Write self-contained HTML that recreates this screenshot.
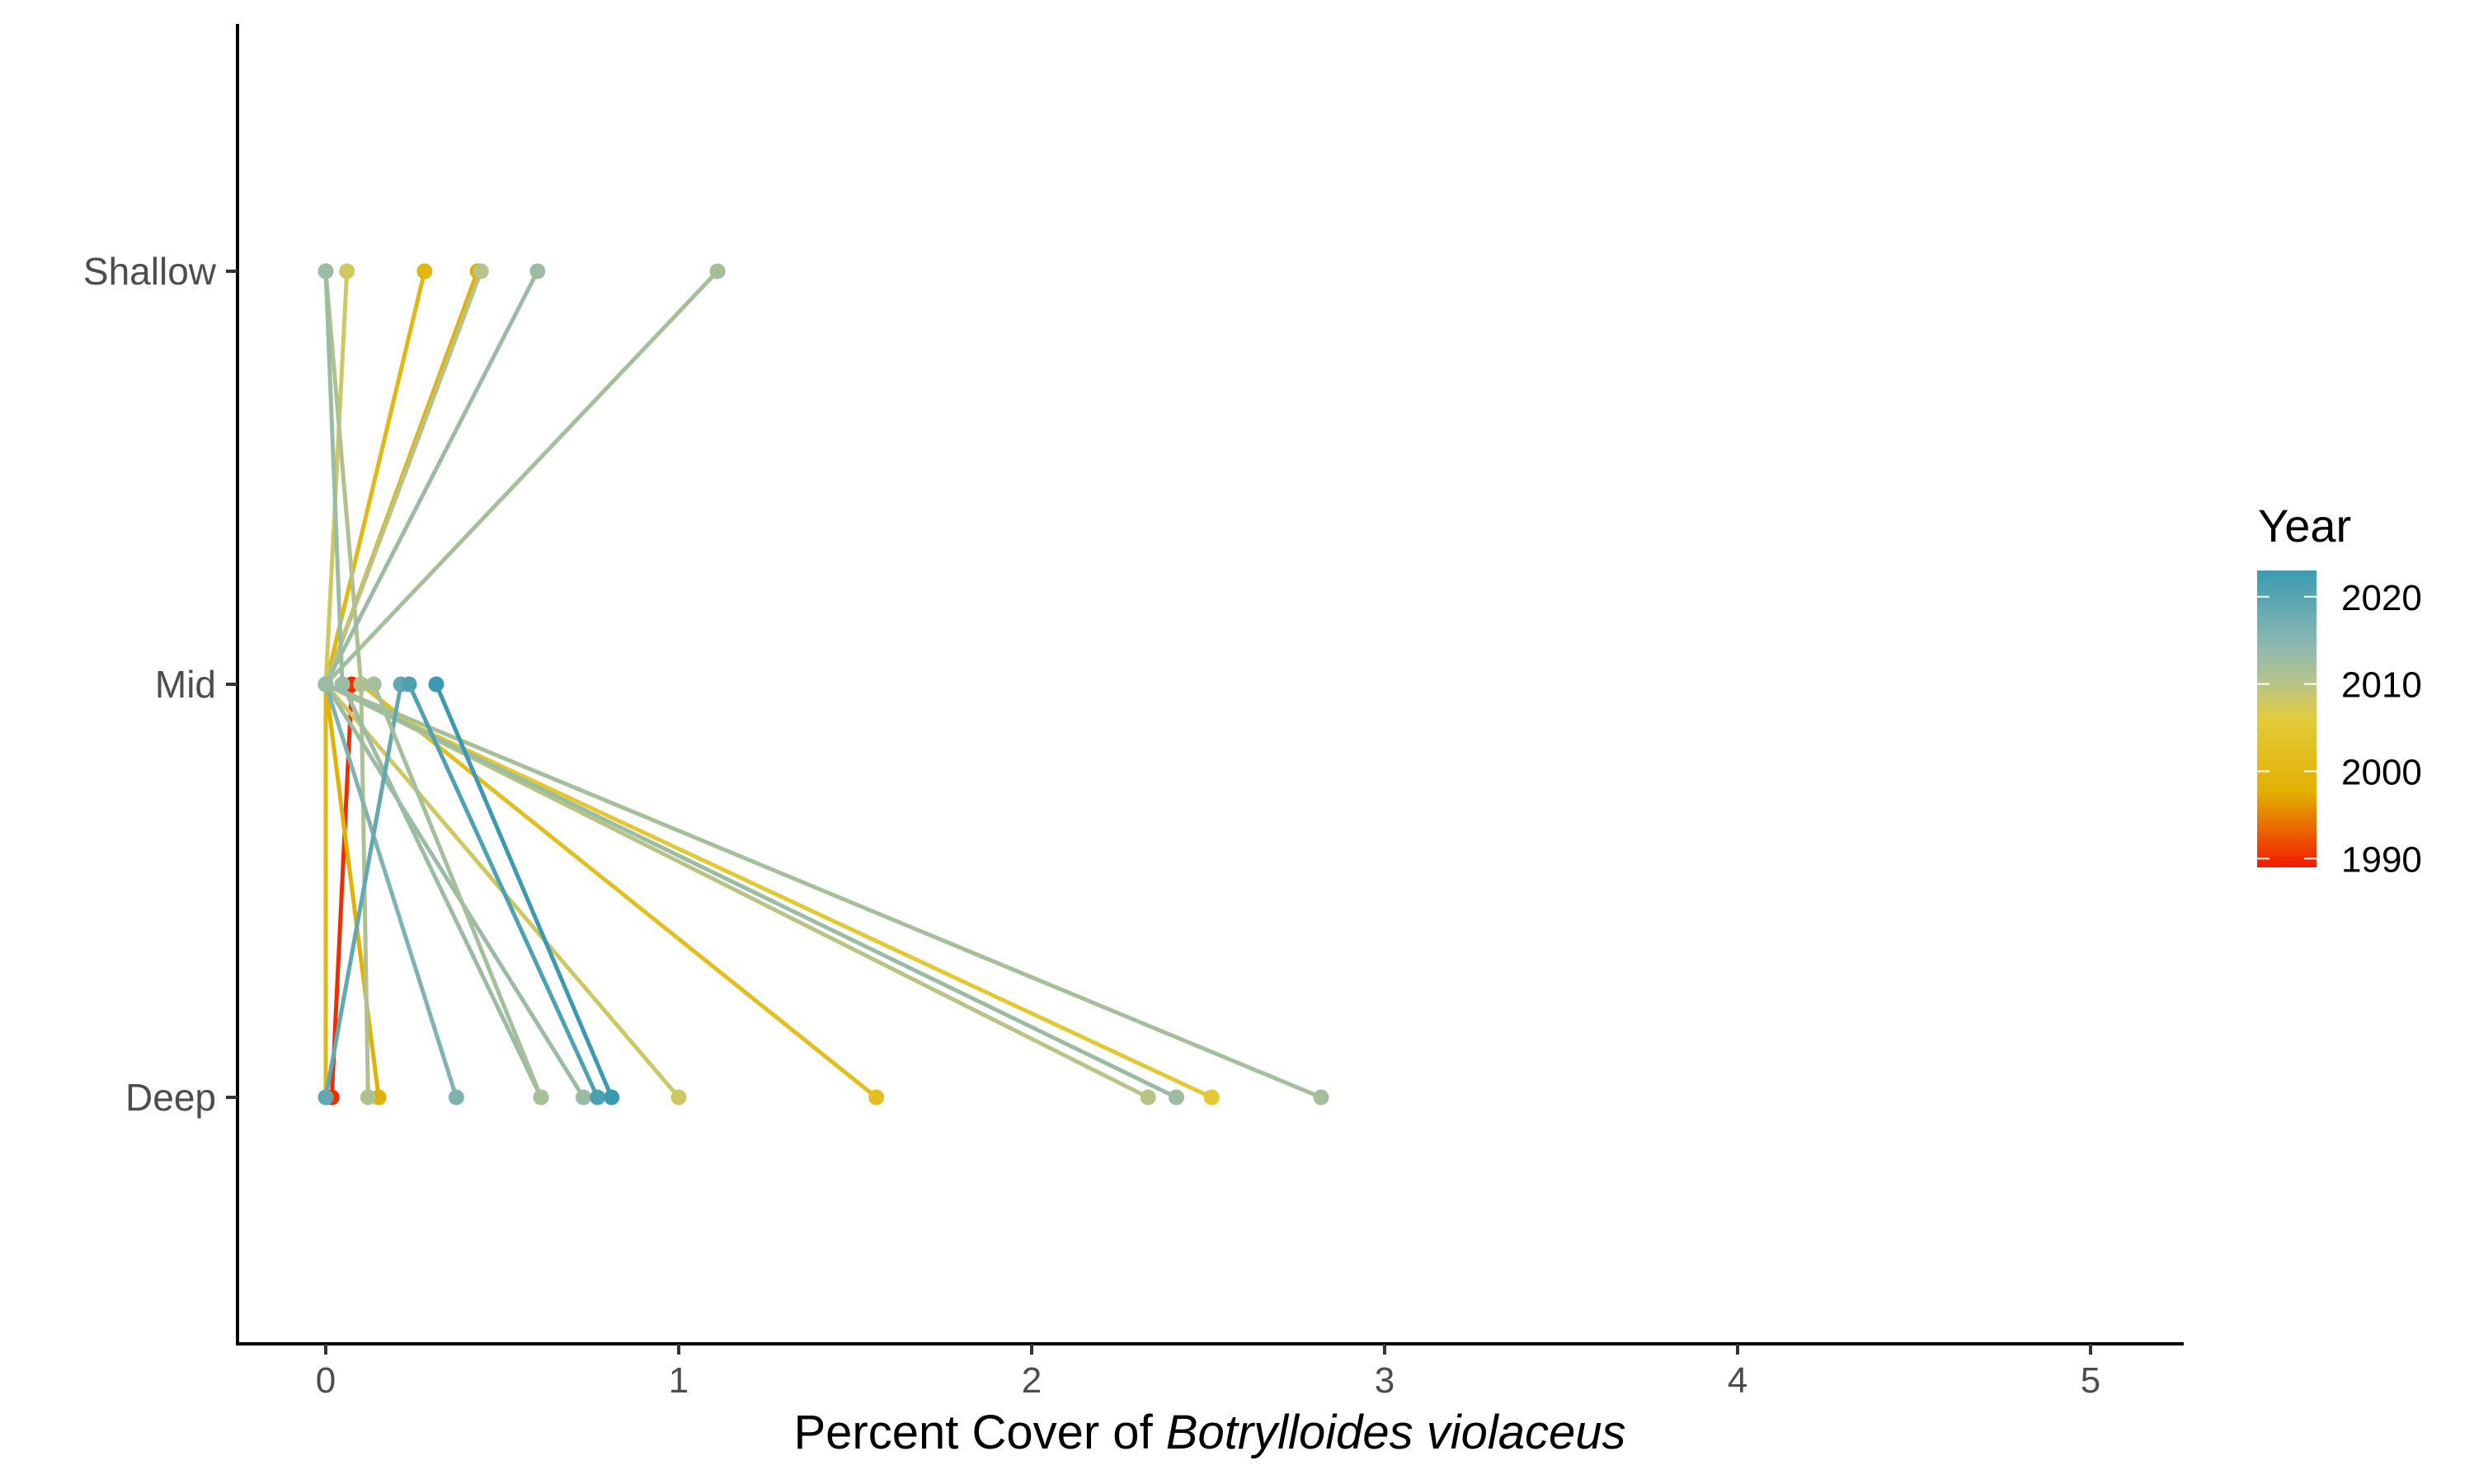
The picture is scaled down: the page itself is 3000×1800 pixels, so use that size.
<!DOCTYPE html>
<html><head><meta charset="utf-8"><style>
html,body{margin:0;padding:0;background:#fff}
svg{display:block}
text{font-family:"Liberation Sans",Arial,sans-serif}
</style></head><body>
<svg id="chart" width="3000" height="1800" viewBox="0 0 3000 1800" xmlns="http://www.w3.org/2000/svg">
<defs>
<linearGradient id="grad" x1="0" y1="1" x2="0" y2="0">
<stop offset="0" stop-color="#F21A00"/>
<stop offset="0.25" stop-color="#E1AF00"/>
<stop offset="0.5" stop-color="#E3CB3A"/>
<stop offset="0.62" stop-color="#B7C489"/>
<stop offset="0.75" stop-color="#8CB8B0"/>
<stop offset="1" stop-color="#3B9AB2"/>
</linearGradient>
</defs>
<g id="marks"></g>
<line x1="288" y1="29" x2="288" y2="1630" stroke="#000" stroke-width="4"/>
<line x1="286" y1="1630" x2="2648" y2="1630" stroke="#000" stroke-width="4"/>
<g id="xticks"></g>
<g id="yticks"></g>
<text x="1467" y="1757" font-size="58" text-anchor="middle" fill="#000">Percent Cover of <tspan font-style="italic">Botrylloides violaceus</tspan></text>
<g>
<text x="2738" y="657" font-size="56" fill="#000">Year</text>
<rect x="2737" y="692" width="72" height="360" fill="url(#grad)"/>
<g id="legticks"></g>
</g>
</svg>
<script>
const xTicks = [0,1,2,3,4,5];
const depths = ["Shallow","Mid","Deep"];
const years   = [1990, 1998, 2000, 2002, 2005, 2008, 2010, 2011, 2012, 2013, 2013, 2016, 2013, 2019, 2021, 2023, 2012];
const shallow = [null, 0.43, 0.28, null, null, 0.06, 0.44, 0.0, 1.11, 0.6, 0.0, null, null, null, null, null, null];
const mid     = [0.074, 0, 0, 0.1, 0, 0, 0, 0.1, 0, 0, 0.047, 0, 0, 0.213, 0.236, 0.313, 0.136];
const deep    = [0.017, 0.15, 0.0, 1.56, 2.51, 1.0, 2.33, 0.12, 2.82, 0.73, 0.61, 0.37, 2.41, 0.0, 0.77, 0.81, 0.61];
const legendYears = [1990, 2000, 2010, 2020];

const NS="http://www.w3.org/2000/svg";
const x = v => 395 + v*428;
const yPos = {Shallow:329, Mid:830, Deep:1331};
const yMin=1989, yMax=2023;
const stops=[[0,[242,26,0]],[0.25,[225,175,0]],[0.5,[227,203,58]],[0.62,[183,196,137]],[0.75,[140,184,176]],[1,[59,154,178]]];
function col(yr){
  let t=(yr-yMin)/(yMax-yMin); t=Math.max(0,Math.min(1,t));
  for(let i=0;i<stops.length-1;i++){
    const [a,ca]=stops[i],[b,cb]=stops[i+1];
    if(t<=b){const u=(t-a)/(b-a);return `rgb(${ca.map((c,k)=>Math.round(c+(cb[k]-c)*u)).join(',')})`;}
  }
  return 'rgb(59,154,178)';
}
function mk(tag,attrs,parent){const e=document.createElementNS(NS,tag);for(const k in attrs)e.setAttribute(k,attrs[k]);parent.appendChild(e);return e;}
const marks=document.getElementById('marks');
const lineG=mk('g',{},marks); const ptG=mk('g',{},marks);




for(let i=0;i<years.length;i++){
  const c=col(years[i]);
  const vals=[shallow[i],mid[i],deep[i]];
  const pts=[];
  vals.forEach((v,j)=>{if(v!==null)pts.push([x(v),yPos[depths[j]]]);});
  const pl=mk('polyline',{points:pts.map(p=>p.join(',')).join(' '),fill:'none',stroke:c,'stroke-width':5,'stroke-linejoin':'round'},lineG);
  
  
  pts.forEach(p=>{
    const cc=mk('circle',{cx:p[0],cy:p[1],r:9.5,fill:c},ptG);
    
    
  });
}
const xt=document.getElementById('xticks');
xTicks.forEach(v=>{
  const l=mk('line',{x1:x(v),x2:x(v),y1:1630,y2:1643,stroke:'#333','stroke-width':4},xt);
  
  
  const t=mk('text',{x:x(v),y:1689,'font-size':44,'text-anchor':'middle',fill:'#4D4D4D'},xt);
  t.textContent=v;
  
  
});
const yt=document.getElementById('yticks');
depths.forEach(d=>{
  const l=mk('line',{x1:274,x2:288,y1:yPos[d],y2:yPos[d],stroke:'#333','stroke-width':4},yt);
  
  
  const t=mk('text',{x:262,y:yPos[d]+16,'font-size':46,'text-anchor':'end',fill:'#4D4D4D'},yt);
  t.textContent=d;
  
  
});
const lt=document.getElementById('legticks');
legendYears.forEach(yr=>{
  const yy=1052-(yr-yMin)/(yMax-yMin)*360;
  mk('line',{x1:2737,x2:2752,y1:yy,y2:yy,stroke:'#fff','stroke-width':2},lt);
  mk('line',{x1:2794,x2:2809,y1:yy,y2:yy,stroke:'#fff','stroke-width':2},lt);
  const t=mk('text',{x:2839,y:yy+16,'font-size':44,fill:'#000'},lt);
  t.textContent=yr;
  
  
});
</script>
</body></html>
